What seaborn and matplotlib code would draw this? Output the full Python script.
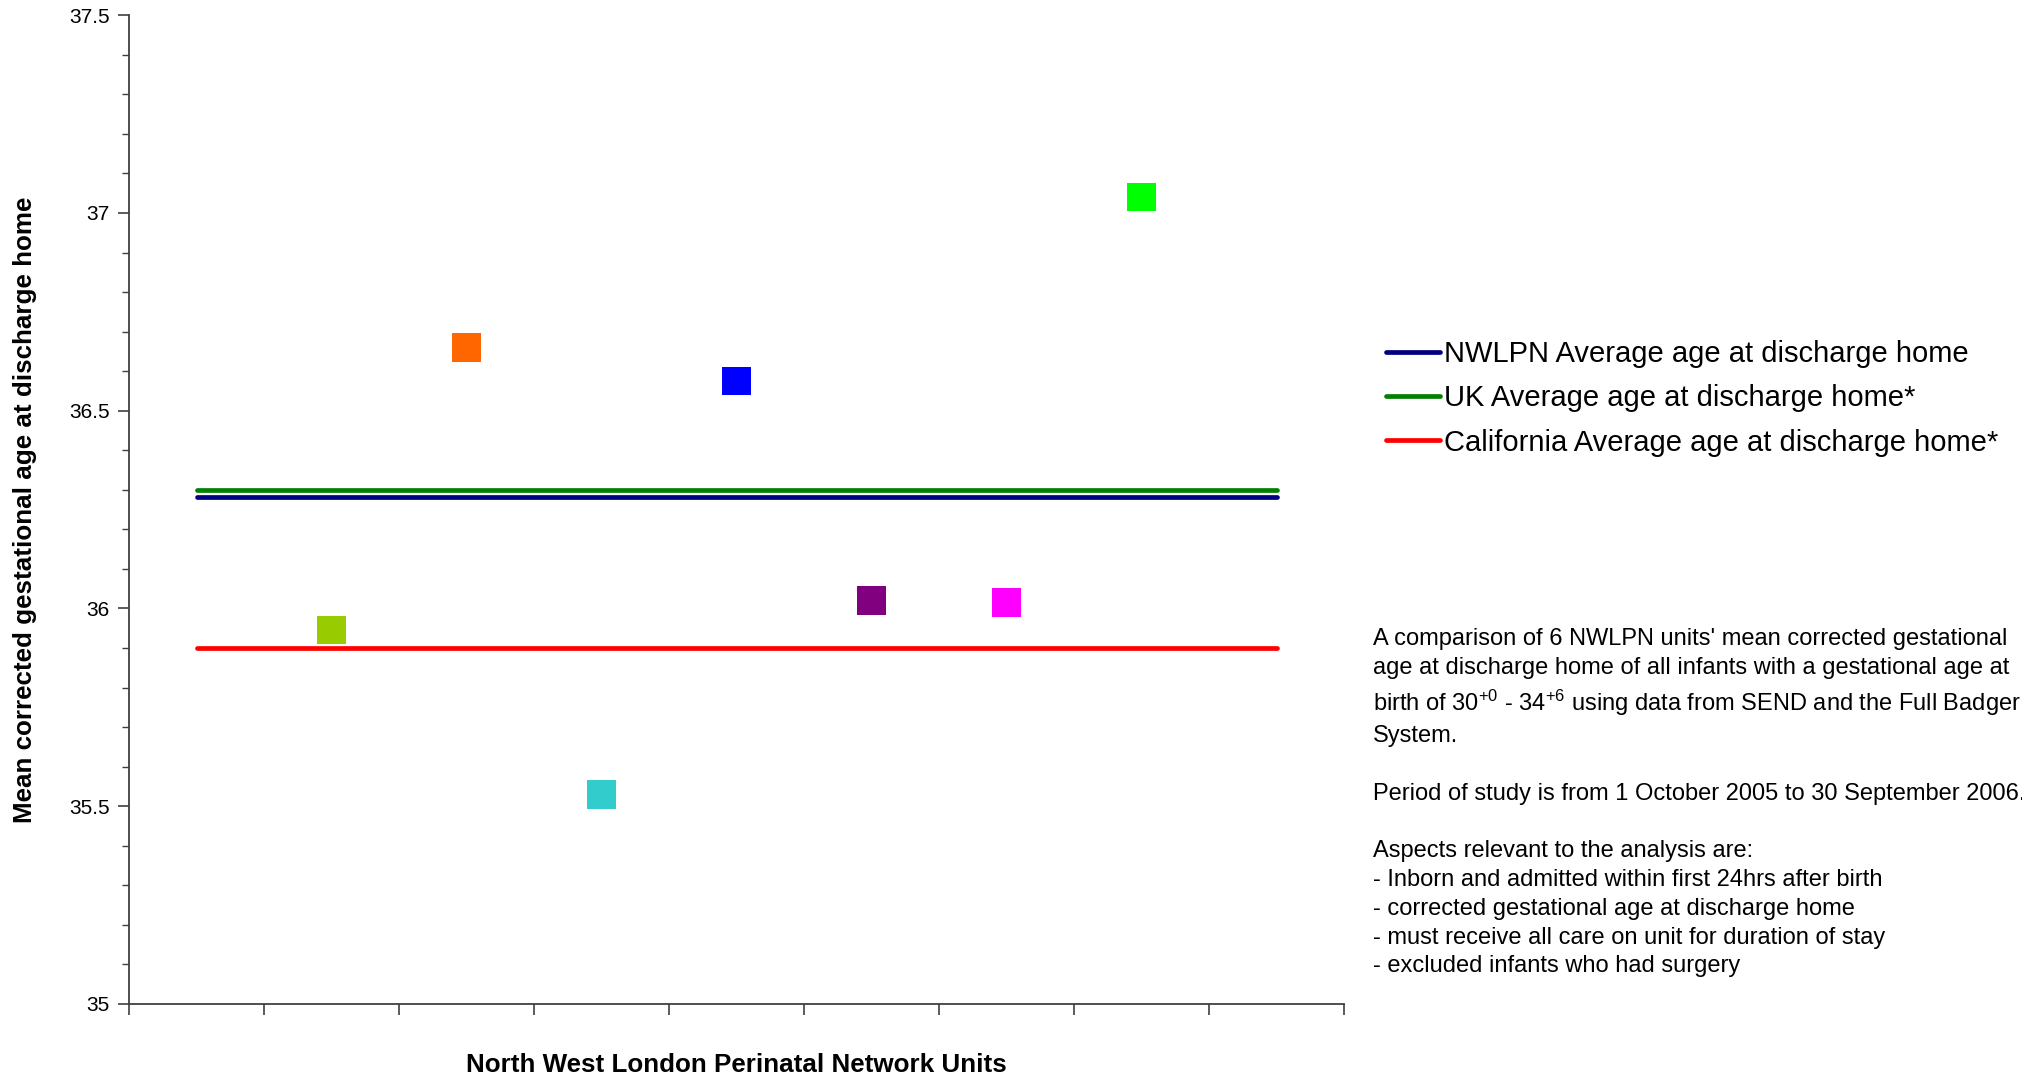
import matplotlib
matplotlib.use("Agg")
import matplotlib.pyplot as plt
import seaborn as sns
import pandas as pd
from matplotlib.lines import Line2D
from matplotlib.ticker import MultipleLocator, FixedLocator, NullFormatter, FuncFormatter

# Unit positions along the x axis (nine slots, units occupy slots 2-8)
slots = list(range(1, 10))
unit_pos = [2, 3, 4, 5, 6, 7, 8]
unit_names = ["Unit A", "Unit B", "Unit C", "Unit D", "Unit E", "Unit F", "Unit G"]
unit_means = [35.945, 36.66, 35.53, 36.575, 36.02, 36.015, 37.04]
unit_colors = ["#99CC00", "#FF6600", "#33CCCC", "#0000FF", "#800080", "#FF00FF", "#00FF00"]

# Reference averages drawn as horizontal series
avg_labels = ["NWLPN Average age at discharge home",
              "UK Average age at discharge home*",
              "California Average age at discharge home*"]
avg_values = [36.283, 36.30, 35.90]
avg_colors = ["#000080", "#008000", "#FF0000"]

sns.set_theme(style="white")
plt.rcParams["font.family"] = ["Liberation Sans", "DejaVu Sans"]
plt.rcParams["mathtext.fontset"] = "custom"
plt.rcParams["mathtext.rm"] = "Liberation Sans"
plt.rcParams["mathtext.default"] = "regular"
plt.rcParams["text.color"] = "black"
plt.rcParams["axes.labelcolor"] = "black"
plt.rcParams["ytick.color"] = "black"

fig = plt.figure(figsize=(20.22, 10.80), dpi=100)
ax = fig.add_axes([0.0638, 0.0704, 0.601, 0.9155])

# Average lines
line_df = pd.DataFrame({
    "slot": slots * len(avg_values),
    "value": [v for v in avg_values for _ in slots],
    "series": [lab for lab in avg_labels for _ in slots],
})
sns.lineplot(data=line_df, x="slot", y="value", hue="series",
             hue_order=avg_labels, palette=avg_colors, linewidth=3.4,
             ax=ax, legend=False, zorder=2)

# Unit means as square markers
pts = pd.DataFrame({"pos": unit_pos, "mean": unit_means, "unit": unit_names})
sns.scatterplot(data=pts, x="pos", y="mean", hue="unit", hue_order=unit_names,
                palette=unit_colors, marker="s", s=420, linewidth=0,
                ax=ax, legend=False, zorder=3)

ax.set_xlim(0.5, 9.5)
ax.set_ylim(35, 37.5)
ax.yaxis.set_major_locator(MultipleLocator(0.5))
ax.yaxis.set_minor_locator(MultipleLocator(0.1))
ax.xaxis.set_major_locator(FixedLocator([x + 0.5 for x in range(0, 10)]))
ax.xaxis.set_major_formatter(NullFormatter())
ax.yaxis.set_major_formatter(FuncFormatter(lambda v, p: f"{v:g}"))

for side in ["top", "right"]:
    ax.spines[side].set_visible(False)
for side in ["left", "bottom"]:
    ax.spines[side].set_color("#404040")
    ax.spines[side].set_linewidth(1.3)

ax.tick_params(axis="y", which="major", direction="out", length=8, width=1.2,
               color="#404040", labelcolor="black", labelsize=15, pad=6, left=True)
ax.tick_params(axis="y", which="minor", direction="out", length=5, width=1.0,
               color="#404040", left=True)
ax.tick_params(axis="x", which="major", direction="out", length=8, width=1.2,
               color="#404040", bottom=True)

ax.set_xlabel("North West London Perinatal Network Units", fontsize=18.7,
              fontweight="bold")
ax.set_ylabel("Mean corrected gestational age at discharge home", fontsize=18.7,
              fontweight="bold")
ax.xaxis.set_label_coords(0.5, -0.05)
ax.yaxis.set_label_coords(-0.076, 0.5)
ax.xaxis.label.set_va("top")

# Legend for the averages
handles = [Line2D([0], [0], color=c, lw=3.4) for c in avg_colors]
fig.legend(handles, avg_labels, loc="upper left", bbox_to_anchor=(0.6795, 0.696),
           frameon=False, fontsize=21, handlelength=1.85, handletextpad=0.15,
           labelspacing=0.56, borderaxespad=0)

# Notes block
notes = ("A comparison of 6 NWLPN units' mean corrected gestational\n"
         "age at discharge home of all infants with a gestational age at\n"
         "birth of 30$^{+0}$ - 34$^{+6}$ using data from SEND and the Full Badger\n"
         "System.\n"
         "\n"
         "Period of study is from 1 October 2005 to 30 September 2006.\n"
         "\n"
         "Aspects relevant to the analysis are:\n"
         "- Inborn and admitted within first 24hrs after birth\n"
         "- corrected gestational age at discharge home\n"
         "- must receive all care on unit for duration of stay\n"
         "- excluded infants who had surgery")
fig.text(0.679, 0.4185, notes, fontsize=17, va="top", ha="left",
         linespacing=1.4, color="#000000")

fig.savefig("out.png", dpi=100, facecolor="white")
